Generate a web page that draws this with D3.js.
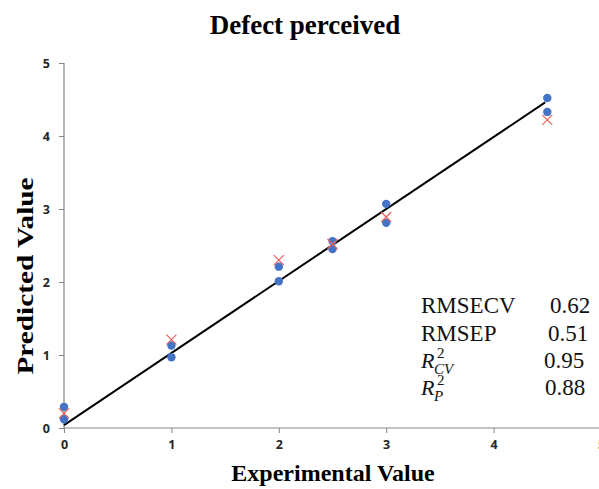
<!DOCTYPE html>
<html>
<head>
<meta charset="utf-8">
<script src="https://cdn.jsdelivr.net/npm/d3@7"></script>
<style>
  body { margin: 0; background: #fff; }
  svg { display: block; overflow: hidden; }
</style>
</head>
<body>
<svg id="chart" width="599" height="489"></svg>
<script>
// calibration samples (blue dots)
const calX = [0, 0, 1, 1, 2, 2, 2.5, 2.5, 3, 3, 4.5, 4.5];
const calY = [0.29, 0.12, 1.13, 0.97, 2.21, 2.01, 2.56, 2.45, 3.07, 2.81, 4.52, 4.33];
// prediction samples (red crosses)
const predX = [0, 1, 2, 2.5, 3, 4.5];
const predY = [0.2, 1.21, 2.3, 2.52, 2.89, 4.22];
// fitted line end points
const fitX = [0, 4.48];
const fitY = [0.04, 4.46];

const xTicks = [0, 1, 2, 3, 4, 5];
const yTicks = [0, 1, 2, 3, 4, 5];

const statNames = ["RMSECV", "RMSEP", "R2CV", "R2P"];
const statValues = ["0.62", "0.51", "0.95", "0.88"];

const svg = d3.select("#chart");

const x = d3.scaleLinear().domain([0, 5]).range([64, 601]);
const y = d3.scaleLinear().domain([0, 5]).range([428, 63]);

const axisColor = "#868686";
const tickFont = "'Open Sans', 'DejaVu Sans', sans-serif";

// x axis
const xAxis = svg.append("g")
  .attr("transform", `translate(0,${y(0)})`)
  .call(d3.axisBottom(x).tickValues(xTicks).tickSize(5).tickPadding(7).tickFormat(d3.format("d")));
xAxis.select(".domain").attr("stroke", axisColor).attr("stroke-width", 1.2).attr("d", `M${x(0)},0H${x(5) + 5}`);
xAxis.selectAll(".tick line").attr("stroke", axisColor);
xAxis.selectAll(".tick text")
  .attr("font-family", tickFont)
  .attr("font-weight", "bold")
  .attr("font-size", 12.5)
  .attr("fill", "#262626");

// y axis
const yAxis = svg.append("g")
  .attr("transform", `translate(${x(0)},0)`)
  .call(d3.axisLeft(y).tickValues(yTicks).tickSize(5).tickPadding(9).tickFormat(d3.format("d")));
yAxis.select(".domain").attr("stroke", axisColor).attr("stroke-width", 1.2).attr("d", `M0,${y(5)}V${y(0)}`);
yAxis.selectAll(".tick line").attr("stroke", axisColor);
yAxis.selectAll(".tick text")
  .attr("font-family", tickFont)
  .attr("font-weight", "bold")
  .attr("font-size", 12.5)
  .attr("fill", "#262626");

// fit line
svg.append("line")
  .attr("x1", x(fitX[0])).attr("y1", y(fitY[0]))
  .attr("x2", x(fitX[1])).attr("y2", y(fitY[1]))
  .attr("stroke", "#000")
  .attr("stroke-width", 2);

// blue dots
svg.append("g")
  .selectAll("circle")
  .data(calX)
  .join("circle")
  .attr("cx", d => x(d))
  .attr("cy", (d, i) => y(calY[i]))
  .attr("r", 4.2)
  .attr("fill", "#4472C4");

// red crosses
const s = 5;
svg.append("g")
  .selectAll("path")
  .data(predX)
  .join("path")
  .attr("d", (d, i) => {
    const cx = x(d), cy = y(predY[i]);
    return `M${cx - s},${cy - s}L${cx + s},${cy + s}M${cx - s},${cy + s}L${cx + s},${cy - s}`;
  })
  .attr("stroke", "#E8625A")
  .attr("stroke-width", 1.2)
  .attr("fill", "none");

// title and axis titles
const serif = "'Liberation Serif', 'Times New Roman', serif";
svg.append("text")
  .attr("x", 305).attr("y", 34)
  .attr("text-anchor", "middle")
  .attr("font-family", serif)
  .attr("font-weight", "bold")
  .attr("font-size", 27)
  .text("Defect perceived");

svg.append("text")
  .attr("x", 333).attr("y", 481)
  .attr("text-anchor", "middle")
  .attr("font-family", serif)
  .attr("font-weight", "bold")
  .attr("font-size", 24)
  .text("Experimental Value");

// y title is stretched along its length in the reference
svg.append("text")
  .attr("transform", "translate(33,276) rotate(-90) scale(1.22,1)")
  .attr("text-anchor", "middle")
  .attr("font-family", serif)
  .attr("font-weight", "bold")
  .attr("font-size", 24)
  .text("Predicted Value");

// stats block
const statY = [313, 341, 368, 395];
const valueX = [550, 548, 544, 545];
const stats = svg.append("g")
  .attr("font-family", serif)
  .attr("font-size", 23)
  .attr("fill", "#111");

statNames.forEach((name, i) => {
  const t = stats.append("text").attr("x", 421).attr("y", statY[i]);
  if (name.startsWith("R2")) {
    t.append("tspan").attr("font-style", "italic").attr("font-size", 22).text("R");
    t.append("tspan").attr("x", 437).attr("y", statY[i] - 10)
      .attr("font-size", 15).text("2");
    t.append("tspan").attr("x", 434).attr("y", statY[i] + 6)
      .attr("font-size", 15).attr("font-style", "italic").text(name.slice(2));
  } else {
    t.text(name);
  }
  stats.append("text")
    .attr("x", valueX[i]).attr("y", statY[i])
    .text(statValues[i]);
});
</script>
</body>
</html>
